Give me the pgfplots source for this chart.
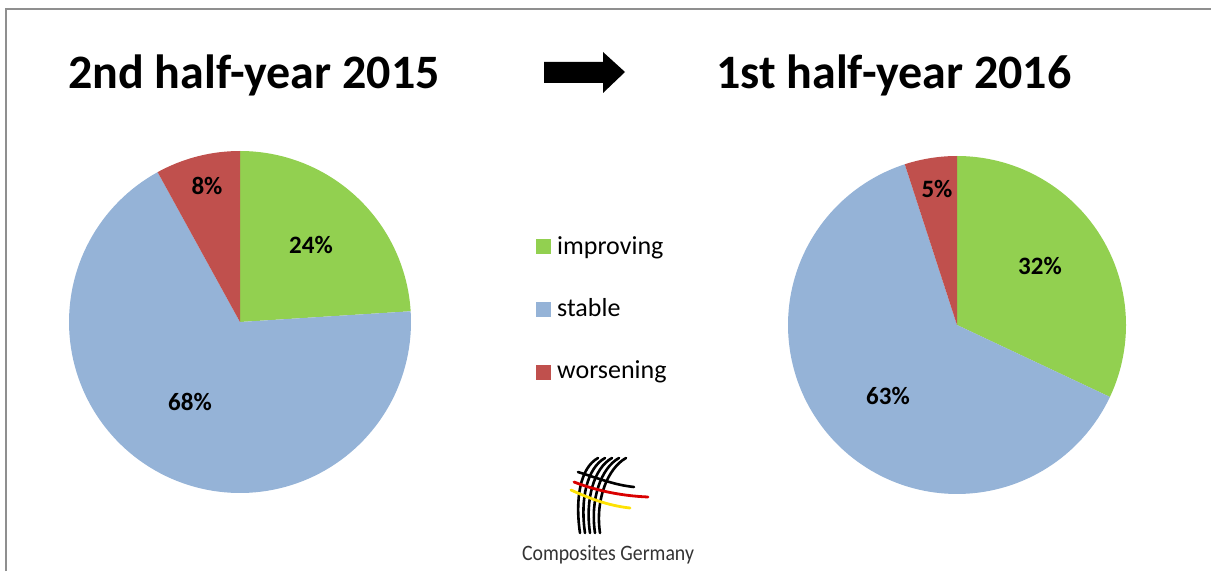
\documentclass[border=0pt]{standalone}
\usepackage{pgfplots}
\pgfplotsset{compat=1.18}
\usepackage{fontspec}
\setmainfont{Carlito}
\definecolor{cgreen}{HTML}{92D050}
\definecolor{cblue}{HTML}{95B3D7}
\definecolor{cred}{HTML}{C0504D}
\definecolor{frame}{HTML}{8F8F8F}
% slice: cx, cy, r, start angle, percent, colour
\newcommand\slice[6]{%
  \pgfmathsetmacro\sa{#4}%
  \pgfmathsetmacro\sb{#4-3.6*#5}%
  \edef\tmp{\noexpand\addplot[fill=#6, draw=none, domain=\sb:\sa, samples=120, variable=\noexpand\t]
    ({#1+#3*cos(\noexpand\t)},{#2+#3*sin(\noexpand\t)}) -- (axis cs:#1,#2) -- cycle;}%
  \tmp}
\begin{document}
\begin{tikzpicture}
\begin{axis}[
  at={(0,0)}, anchor=south west,
  x=1pt, y=1pt, scale only axis,
  xmin=0, xmax=1211, ymin=0, ymax=571,
  hide axis, clip=false]
% --- left pie (2nd half-year 2015): improving 24, stable 68, worsening 8
\slice{240}{249}{171}{90}{24}{cgreen}
\slice{240}{249}{171}{3.6}{68}{cblue}
\slice{240}{249}{171}{-241.2}{8}{cred}
% --- right pie (1st half-year 2016): improving 32, stable 63, worsening 5
\slice{957}{246}{169}{90}{32}{cgreen}
\slice{957}{246}{169}{-25.2}{63}{cblue}
\slice{957}{246}{169}{-252}{5}{cred}
% labels
\begin{scope}[every node/.style={font=\bfseries\fontsize{25}{30}\selectfont, inner sep=0pt}]
\node at (axis cs:311,326) {24\%};
\node at (axis cs:190,169) {68\%};
\node at (axis cs:207,385) {8\%};
\node at (axis cs:1040,305) {32\%};
\node at (axis cs:888,175) {63\%};
\node at (axis cs:937,382) {5\%};
\end{scope}
% titles
\node[anchor=base west, inner sep=0pt, font=\bfseries\fontsize{48}{56}\selectfont] at (axis cs:68,482) {2nd half-year 2015};
\node[anchor=base west, inner sep=0pt, font=\bfseries\fontsize{48}{56}\selectfont] at (axis cs:716,482) {1st half-year 2016};
% arrow
\fill[black] (axis cs:544,509) -- (axis cs:603,509) -- (axis cs:603,519) -- (axis cs:625,499)
  -- (axis cs:603,478) -- (axis cs:603,488) -- (axis cs:544,488) -- cycle;
% legend
\fill[cgreen] (axis cs:536,317) rectangle (axis cs:551,332);
\fill[cblue] (axis cs:536,254) rectangle (axis cs:551,269);
\fill[cred] (axis cs:536,191) rectangle (axis cs:551,206);
\begin{scope}[every node/.style={anchor=base west, inner sep=0pt, font=\fontsize{26}{30}\selectfont}]
\node at (axis cs:557,316) {improving};
\node at (axis cs:557,254) {stable};
\node at (axis cs:557,192) {worsening};
\end{scope}
% logo
\draw[line width=2.6pt, black, line cap=round] (axis cs:598,113) .. controls (axis cs:580,103) and (axis cs:575,72) .. (axis cs:580,38);
\draw[line width=2.6pt, black, line cap=round] (axis cs:605,113) .. controls (axis cs:587,103) and (axis cs:580,72) .. (axis cs:585,38);
\draw[line width=2.6pt, black, line cap=round] (axis cs:612,113) .. controls (axis cs:594,103) and (axis cs:585,72) .. (axis cs:590,38);
\draw[line width=2.6pt, black, line cap=round] (axis cs:619,113) .. controls (axis cs:601,103) and (axis cs:590,72) .. (axis cs:595,38);
\draw[line width=2.6pt, black, line cap=round] (axis cs:626,113) .. controls (axis cs:608,103) and (axis cs:595,72) .. (axis cs:600,38);
\draw[line width=2.6pt, black, line cap=round] (axis cs:578,99) .. controls (axis cs:600,92) and (axis cs:615,86) .. (axis cs:634,84);
\draw[line width=2.8pt, red!85!black, line cap=round] (axis cs:574,89) .. controls (axis cs:600,79) and (axis cs:625,75) .. (axis cs:648,74);
\draw[line width=2.8pt, yellow!85!orange, line cap=round] (axis cs:571,81) .. controls (axis cs:595,70) and (axis cs:612,65) .. (axis cs:630,63);
\node[anchor=base, inner sep=0pt, text=black!80, font=\fontsize{22}{24}\selectfont] at (axis cs:608,10) {\scalebox{0.9}[1]{Composites Germany}};
% frame
\draw[frame, line width=2pt] (axis cs:5.5,0) -- (axis cs:5.5,561.5) -- (axis cs:1211,561.5);
\end{axis}
\pgfresetboundingbox
\path[use as bounding box] (0,0) rectangle (1211pt,571pt);
\end{tikzpicture}
\end{document}
